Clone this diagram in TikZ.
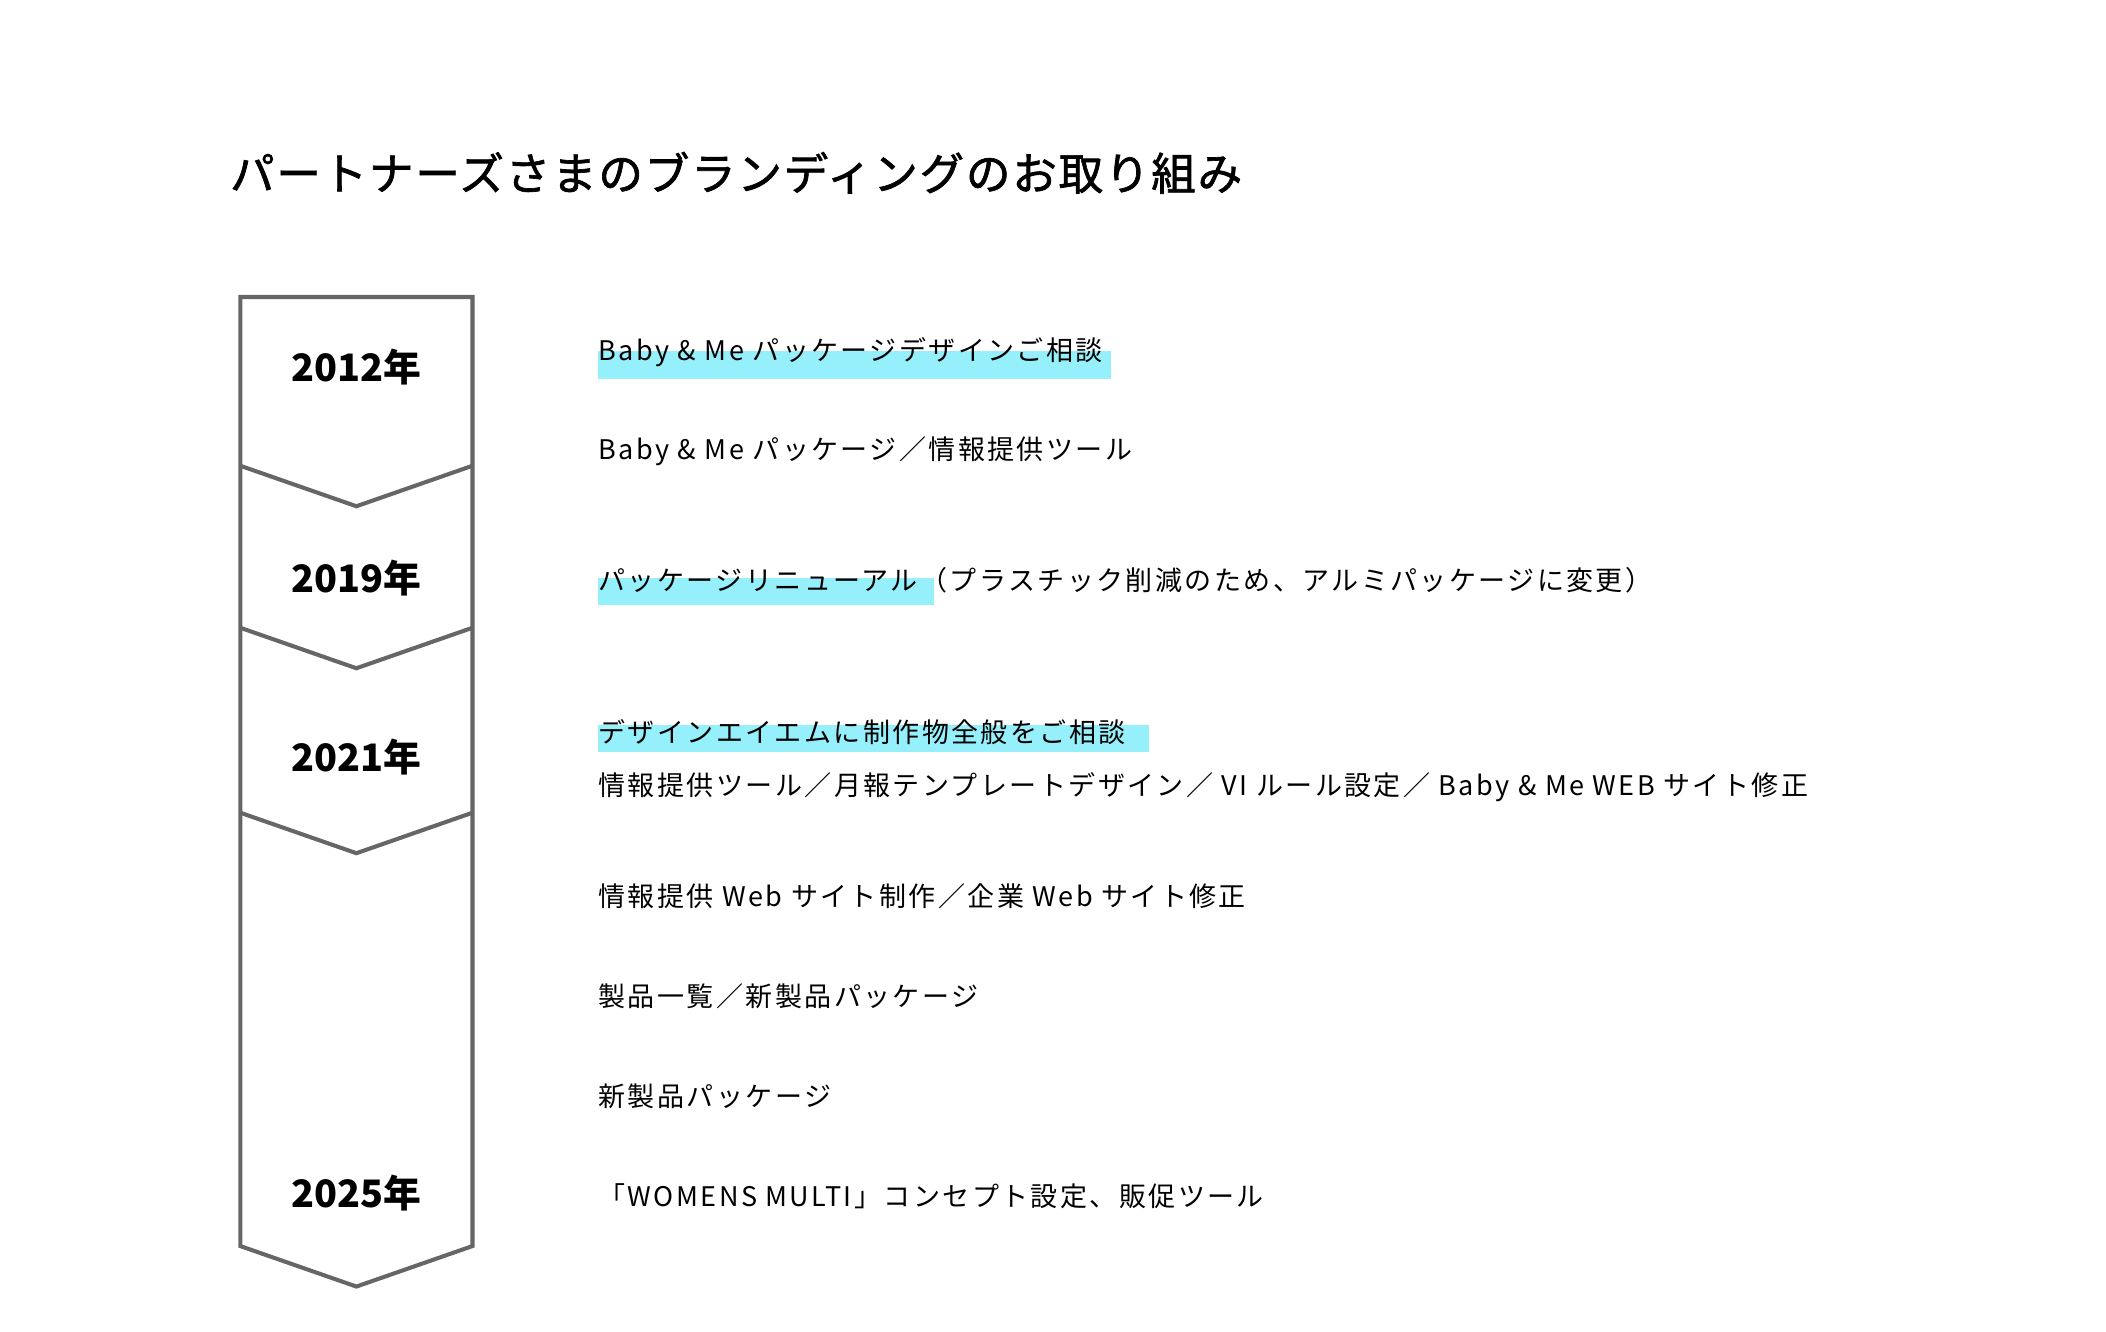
\documentclass[tikz,border=0pt]{standalone}
\usepackage{fontspec}
\setmainfont{Noto Sans CJK JP}
\newfontfamily\spaced[LetterSpace=9]{Noto Sans CJK JP}
\newfontfamily\titlefont[LetterSpace=4,FakeBold=1.5]{Noto Sans CJK JP}
\definecolor{hlc}{RGB}{150,240,252}
\begin{document}
\begin{tikzpicture}[x=0.5pt,y=-0.5pt,
  frame/.style={draw=black!60,line width=1.5pt,line join=miter},
  hl/.style={fill=hlc,draw=none},
  year/.style={font=\fontsize{14}{16}\selectfont\bfseries,anchor=center},
  item/.style={font=\spaced\fontsize{10}{12}\selectfont,anchor=west,inner sep=0pt}]
\useasboundingbox (0,0) rectangle (1560,986);
\fill[white] (0,0) rectangle (1560,986);
\node[font=\titlefont\fontsize{16.5}{20}\selectfont,anchor=west,inner sep=0pt] (title) at (170,128) {パートナーズさまのブランディングのお取り組み};
% highlights
\fill[hl] (443,260) rectangle (823,281);
\fill[hl] (443,428) rectangle (692,448);
\fill[hl] (443,537) rectangle (851,557);
% frame
\draw[frame] (178,923) -- (178,220) -- (350,220) -- (350,923) -- (264,953) -- cycle;
\draw[frame] (178,345) -- (264,375) -- (350,345);
\draw[frame] (178,465) -- (264,495) -- (350,465);
\draw[frame] (178,602) -- (264,632) -- (350,602);
\node[year] (y1) at (264,272) {2012年};
\node[year] (y2) at (264,428) {2019年};
\node[year] (y3) at (264,561) {2021年};
\node[year] (y4) at (264,884) {2025年};
\node[item] (i1) at (443,261) {Baby \& Me パッケージデザインご相談};
\node[item] (i2) at (443,334) {Baby \& Me パッケージ／情報提供ツール};
\node[item] (i3) at (443,430) {パッケージリニューアル（プラスチック削減のため、アルミパッケージに変更）};
\node[item] (i4) at (443,542) {デザインエイエムに制作物全般をご相談};
\node[item] (i5) at (443,583) {情報提供ツール／月報テンプレートデザイン／ VI ルール設定／ Baby \& Me WEB サイト修正};
\node[item] (i6) at (443,664) {情報提供 Web サイト制作／企業 Web サイト修正};
\node[item] (i7) at (443,738) {製品一覧／新製品パッケージ};
\node[item] (i8) at (443,812) {新製品パッケージ};
\node[item] (i9) at (443,886) {「WOMENS MULTI」コンセプト設定、販促ツール};
\end{tikzpicture}
\end{document}
